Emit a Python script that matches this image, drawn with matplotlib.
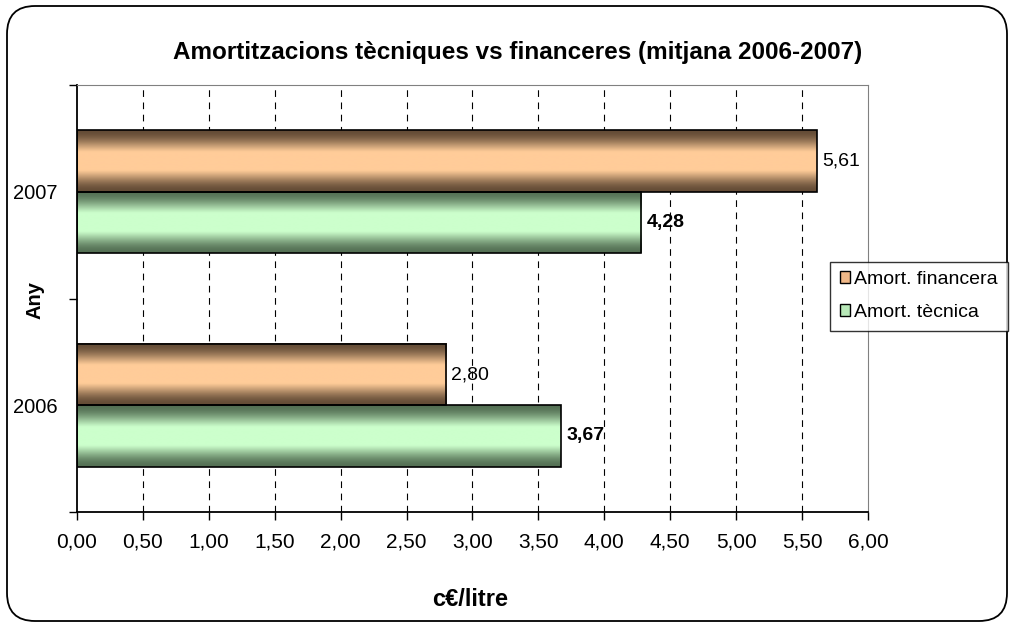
import numpy as np
import matplotlib
matplotlib.use("Agg")
import matplotlib.pyplot as plt
from matplotlib.patches import FancyBboxPatch, Patch
from matplotlib.transforms import IdentityTransform

plt.rcParams['font.family'] = ['Liberation Sans', 'DejaVu Sans']

# data
years = ['2006', '2007']
financera = [2.80, 5.61]
tecnica = [3.67, 4.28]
x_ticks = [0, 0.5, 1, 1.5, 2, 2.5, 3, 3.5, 4, 4.5, 5, 5.5, 6]

fin_light, fin_dark = np.array([255, 204, 153]) / 255, np.array([100, 76, 54]) / 255
tec_light, tec_dark = np.array([204, 255, 204]) / 255, np.array([84, 112, 84]) / 255


def fmt(v):
    return f"{v:.2f}".replace('.', ',')


def gradient_bar(ax, y0, h, w, light, dark):
    t = np.linspace(0, 1, 200)
    k = np.clip(np.sin(np.pi * t) ** 2 * 1.25, 0, 1)
    col = dark[None, :] * (1 - k[:, None]) + light[None, :] * k[:, None]
    img = col[:, None, :]
    ax.imshow(img, extent=[0, w, y0, y0 + h], aspect='auto', origin='lower',
              interpolation='bilinear', zorder=2)
    ax.add_patch(plt.Rectangle((0, y0), w, h, fill=False, edgecolor='black',
                               linewidth=1.2, zorder=3))


fig = plt.figure(figsize=(10.14, 6.27), dpi=100)
ax = fig.add_axes([77 / 1014, 1 - 512 / 627, (868 - 77) / 1014, (512 - 85) / 627])

h = 0.287
for i, yr in enumerate(years):
    c = i + 0.5
    gradient_bar(ax, c, h, financera[i], fin_light, fin_dark)
    gradient_bar(ax, c - h, h, tecnica[i], tec_light, tec_dark)
    ax.text(financera[i] + 0.04, c + h / 2, fmt(financera[i]), va='center',
            ha='left', fontsize=14, zorder=4)
    ax.text(tecnica[i] + 0.04, c - h / 2, fmt(tecnica[i]), va='center',
            ha='left', fontsize=14, fontweight='bold', zorder=4)

ax.set_xlim(0, 6)
ax.set_ylim(0, 2)
ax.set_xticks(x_ticks)
ax.set_xticklabels([fmt(v) for v in x_ticks])
ax.set_yticks([0, 1, 2])
ax.set_yticklabels([])
ax.set_yticks([0.5, 1.5], minor=True)
ax.set_yticklabels(years, minor=True)
ax.tick_params(axis='y', which='minor', length=0, pad=14, labelsize=14.5)
ax.tick_params(axis='y', which='major', length=6, direction='out', width=1)
ax.tick_params(axis='x', length=6, direction='out', width=1, pad=9, labelsize=15)

for xv in x_ticks[1:-1]:
    ax.axvline(xv, color='black', linestyle=(0, (6, 5)), linewidth=0.8, zorder=1)

ax.spines['top'].set_color('#808080')
ax.spines['right'].set_color('#808080')
ax.spines['left'].set_linewidth(1.3)
ax.spines['bottom'].set_linewidth(1.3)

fig.text(518 / 1014, 1 - 52 / 627, 'Amortitzacions tècniques vs financeres (mitjana 2006-2007)',
         ha='center', va='center', fontsize=17.5, fontweight='bold')
fig.text(35 / 1014, 1 - 300 / 627, 'Any', rotation=90, ha='center', va='center',
         fontsize=14.5, fontweight='bold')
fig.text(470 / 1014, 1 - 600 / 627, 'c€/litre', ha='center', va='center',
         fontsize=17, fontweight='bold')

handles = [Patch(facecolor='#f0b888', edgecolor='black', label='Amort. financera'),
           Patch(facecolor='#b8e8b8', edgecolor='black', label='Amort. tècnica')]
leg = fig.legend(handles=handles, loc='center left',
                 bbox_to_anchor=(830 / 1014, 1 - 296 / 627), fontsize=14,
                 frameon=True, fancybox=False, edgecolor='black',
                 handlelength=0.55, handleheight=0.55, handletextpad=0.2,
                 borderpad=0.5, labelspacing=0.8, borderaxespad=0)
leg.get_frame().set_linewidth(1)

border = FancyBboxPatch((7, 6), 1000, 615, boxstyle='round,pad=0,rounding_size=28',
                        transform=IdentityTransform(), fill=False,
                        edgecolor='black', linewidth=1.3)
fig.add_artist(border)

fig.savefig('out.png', dpi=100)
